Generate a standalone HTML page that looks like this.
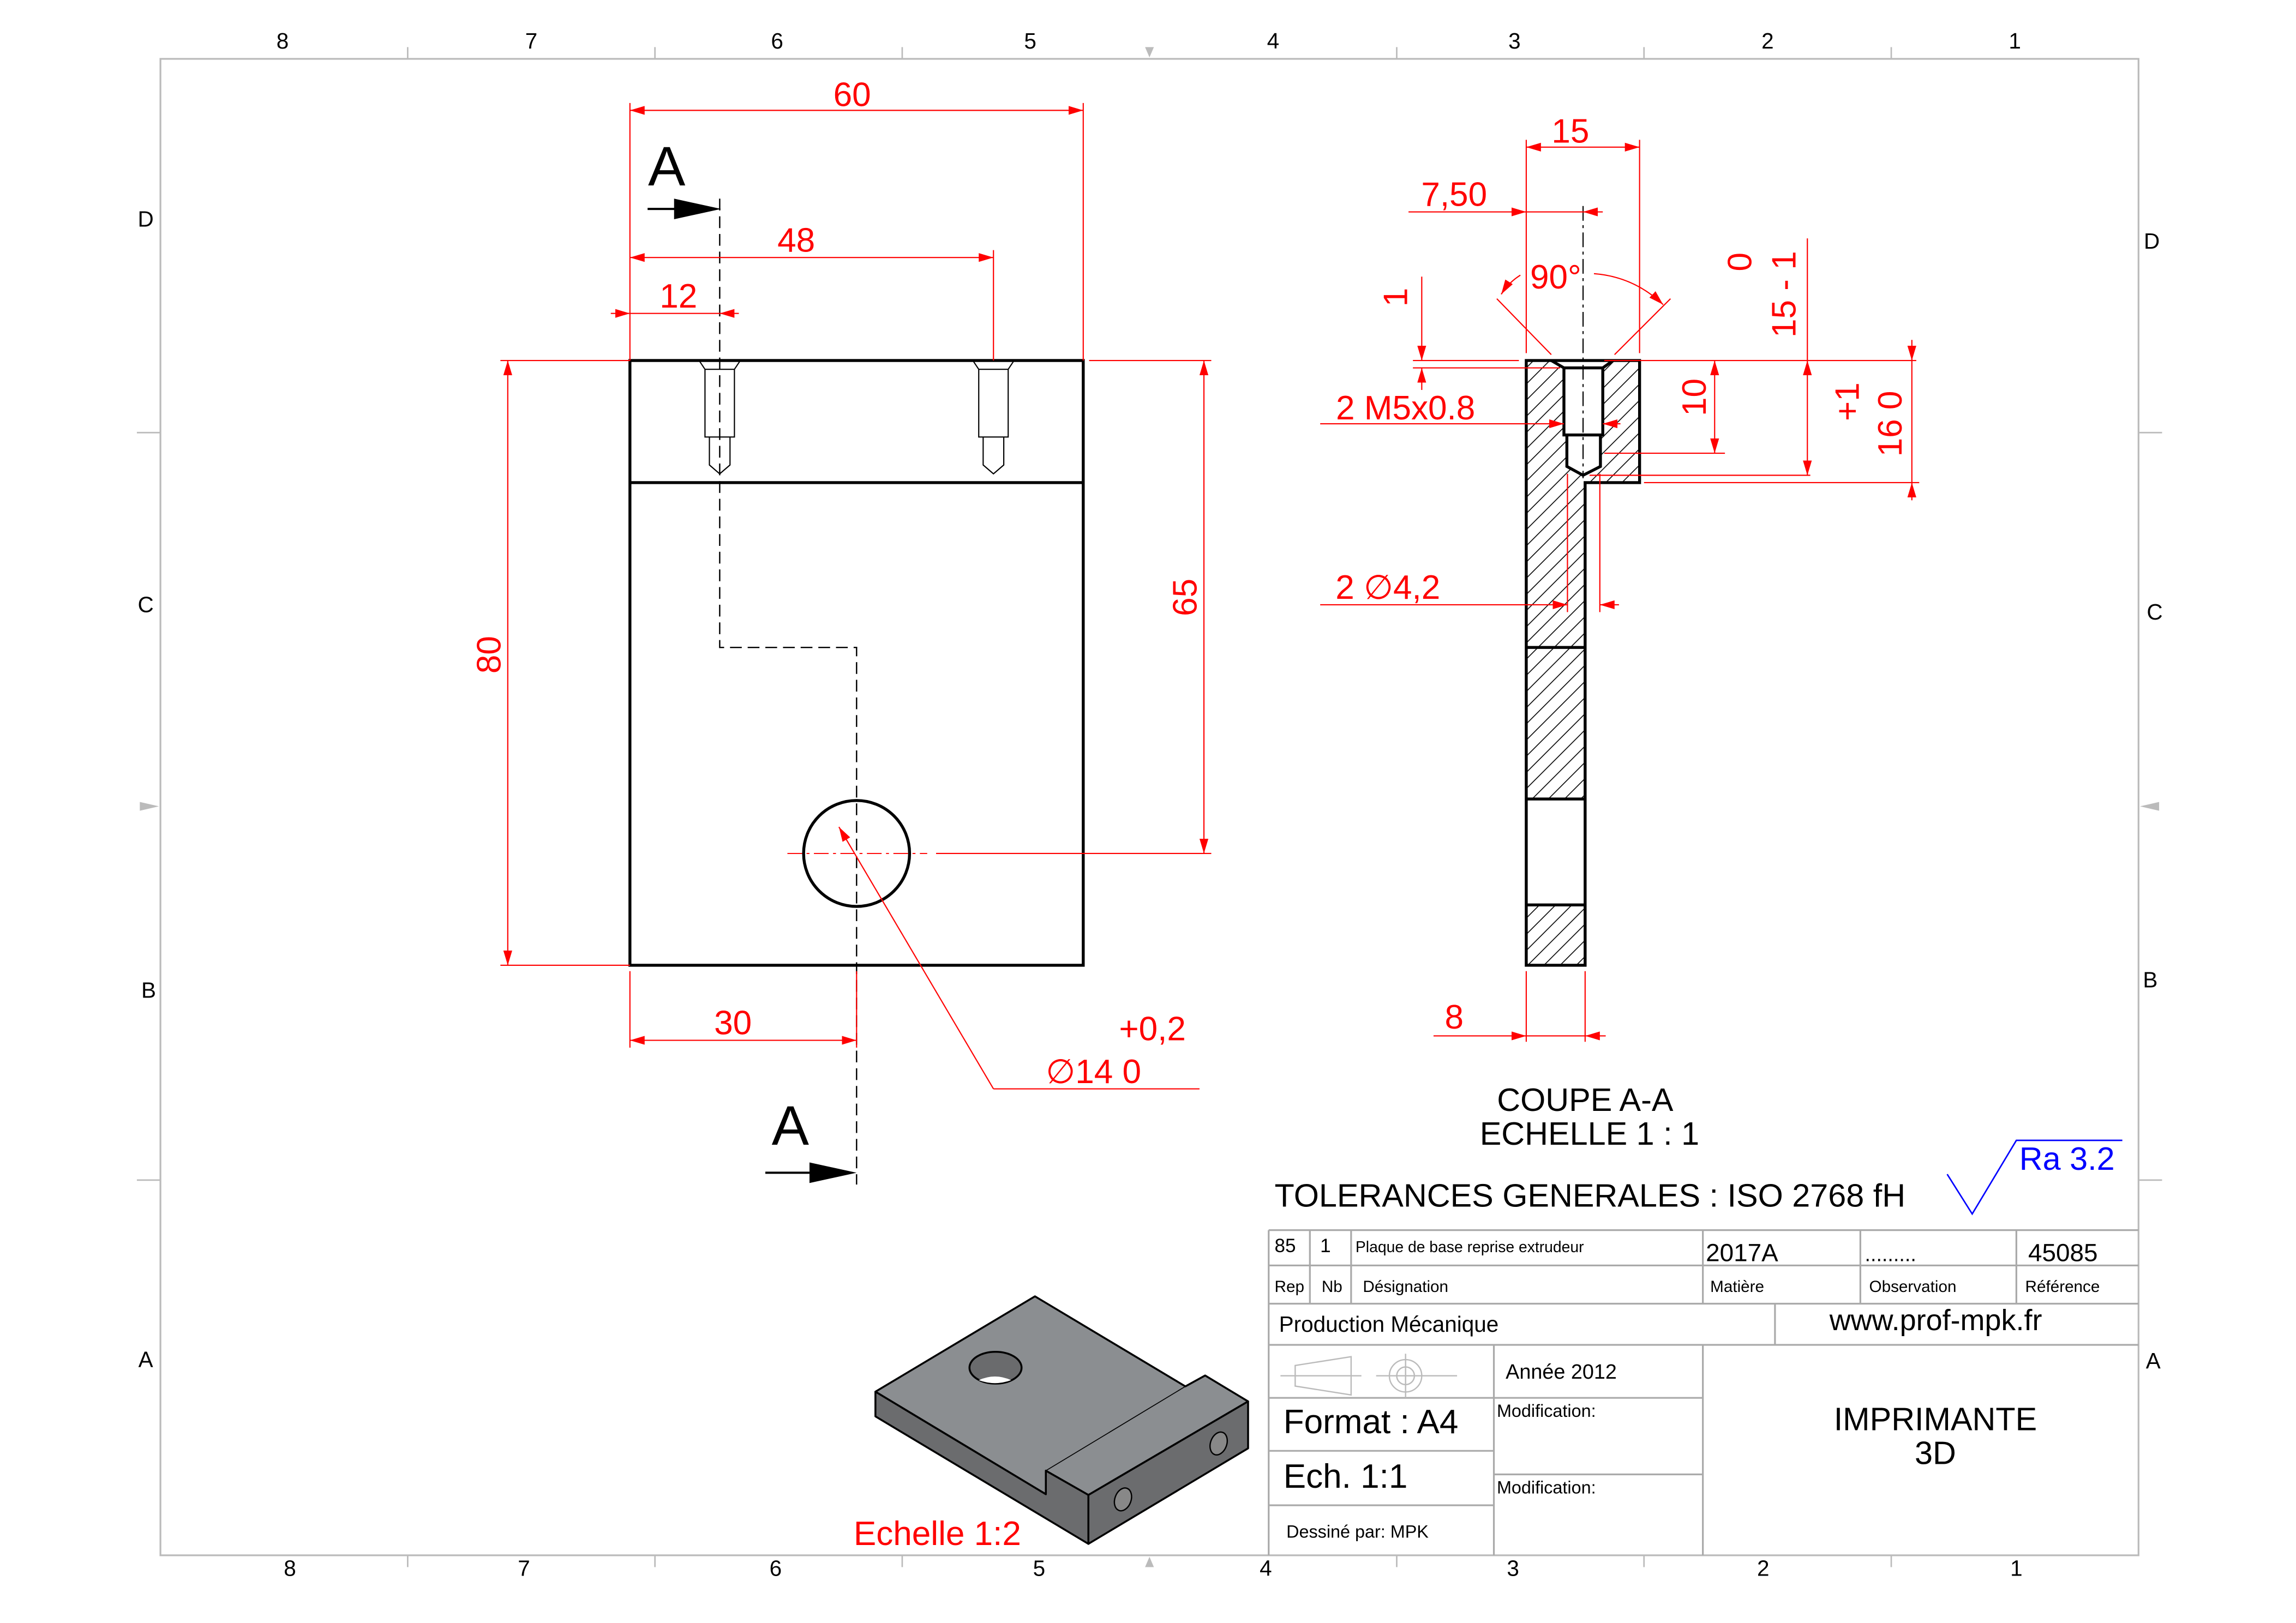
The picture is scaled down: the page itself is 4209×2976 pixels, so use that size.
<!DOCTYPE html>
<html><head><meta charset="utf-8"><style>
html,body{margin:0;padding:0;background:#fff}
svg{display:block}
text{font-family:"Liberation Sans",sans-serif}
</style></head><body>
<svg width="4209" height="2976" viewBox="0 0 1560 1103" xmlns="http://www.w3.org/2000/svg">
<defs>
<pattern id="h" patternUnits="userSpaceOnUse" width="11" height="11">
<path d="M0,11 L11,0 M-2,2 L2,-2 M9,13 L13,9" stroke="#000" stroke-width="0.6"/>
</pattern>
<marker id="a" viewBox="0 0 10 6" refX="10" refY="3" markerWidth="10" markerHeight="6" orient="auto-start-reverse" markerUnits="userSpaceOnUse"><path d="M0,0 L10,3 L0,6 Z" fill="red"/></marker>
</defs>
<rect width="1560" height="1103" fill="#fff"/>
<!-- frame -->
<rect x="109" y="40" width="1344" height="1017" fill="none" stroke="#bbb" stroke-width="1.2"/>
<g stroke="#bbb" stroke-width="1">
<path d="M277,32V40M445,32V40M613,32V40M949,32V40M1117,32V40M1285,32V40M277,1057V1065M445,1057V1065M613,1057V1065M949,1057V1065M1117,1057V1065M1285,1057V1065M93,294H109M93,802H109M1453,294H1469M1453,802H1469"/>
</g>
<g fill="#bbb"><path d="M778,32 L784,32 L781,39Z M778,1065 L784,1065 L781,1058Z M95,545 L95,551 L108,548Z M1467,545 L1467,551 L1454,548Z"/></g>
<g font-size="15" fill="#000" text-anchor="middle">
<text x="192" y="33">8</text><text x="361" y="33">7</text><text x="528" y="33">6</text><text x="700" y="33">5</text><text x="865" y="33">4</text><text x="1029" y="33">3</text><text x="1201" y="33">2</text><text x="1369" y="33">1</text>
<text x="197" y="1071">8</text><text x="356" y="1071">7</text><text x="527" y="1071">6</text><text x="706" y="1071">5</text><text x="860" y="1071">4</text><text x="1028" y="1071">3</text><text x="1198" y="1071">2</text><text x="1370" y="1071">1</text>
<text x="99" y="154">D</text><text x="99" y="416">C</text><text x="101" y="678">B</text><text x="99" y="929">A</text>
<text x="1462" y="169">D</text><text x="1464" y="421">C</text><text x="1461" y="671">B</text><text x="1463" y="930">A</text>
</g>

<!-- FRONT VIEW -->
<g fill="none" stroke="#000">
<rect x="428" y="245" width="308" height="411" stroke-width="2"/>
<path d="M428,328H736" stroke-width="2"/>
<g stroke-width="0.8">
<path d="M475,245 L479,251 H499 L503,245 M479,251V297H499V251 M482,297V316 L489,322 L496,316V297"/>
<path d="M661,245 L665,251 H685 L689,245 M665,251V297H685V251 M668,297V316 L675,322 L682,316V297"/>
</g>
<circle cx="582" cy="580" r="36" stroke-width="2"/>
<path d="M489,135V440H582V805" stroke-width="0.9" stroke-dasharray="8,4"/>
</g>
<path d="M535,580H630" stroke="red" stroke-width="0.7" stroke-dasharray="10,3,2,3"/>
<!-- section arrows -->
<text x="453" y="126" font-size="38" text-anchor="middle">A</text>
<path d="M440,142H460" stroke="#000" stroke-width="1.5"/><path d="M458,135 L490,142 L458,149Z" fill="#000"/>
<text x="537" y="778" font-size="38" text-anchor="middle">A</text>
<path d="M520,797H550" stroke="#000" stroke-width="1.5"/><path d="M550,790 L582,797 L550,804Z" fill="#000"/>

<!-- front dims -->
<g stroke="red" stroke-width="0.8" fill="none">
<path d="M428,70V245M736,70V245M675,170V245M340,245H428M340,656H428M740,245H823M636,580H823M428,660V712M582,660V712"/>
<path d="M428,75H736" marker-start="url(#a)" marker-end="url(#a)"/>
<path d="M428,175H675" marker-start="url(#a)" marker-end="url(#a)"/>
<path d="M415,213H428" marker-end="url(#a)"/><path d="M502,213H489" marker-end="url(#a)"/><path d="M428,213H489"/>
<path d="M345,245V656" marker-start="url(#a)" marker-end="url(#a)"/>
<path d="M818,245V580" marker-start="url(#a)" marker-end="url(#a)"/>
<path d="M428,707H582" marker-start="url(#a)" marker-end="url(#a)"/>
<path d="M675,740 L570,562" marker-end="url(#a)"/><path d="M675,740H815"/>
</g>
<g fill="red" font-size="23" text-anchor="middle">
<text x="579" y="72">60</text><text x="541" y="171">48</text><text x="461" y="209">12</text>
<text x="498" y="703">30</text>
<text transform="translate(340,445) rotate(-90)">80</text>
<text transform="translate(813,406) rotate(-90)">65</text>
<text x="783" y="707">+0,2</text>
<text x="743" y="736" text-anchor="middle">∅14   0</text>
</g>

<!-- SECTION VIEW -->
<g>
<path d="M1037,245H1114V328H1077V440H1037Z" fill="url(#h)"/>
<rect x="1037" y="440" width="40" height="103" fill="url(#h)"/>
<rect x="1037" y="615" width="40" height="41" fill="url(#h)"/>
<path d="M1053,245 L1062.6,250 V295.6 H1064.6 V317 L1075.6,323 L1087.4,317 V295.6 H1089 V250 L1097,245Z" fill="#fff"/>
<g fill="none" stroke="#000" stroke-width="2">
<path d="M1037,245H1114V328H1077V656H1037Z"/>
<path d="M1037,440H1077M1037,543H1077M1037,615H1077"/>
<path d="M1054,245 L1062.6,250 H1089 L1096,245 M1062.6,250V295.6H1089V250 M1064.6,295.6V317 L1075.6,323 L1087.4,317V295.6"/>
</g>
<path d="M1075.6,140V325" stroke="#000" stroke-width="0.8" stroke-dasharray="10,3,2,3"/>
</g>
<g stroke="red" stroke-width="0.8" fill="none">
<path d="M1037,95V240M1114,95V240"/>
<path d="M1037,100H1114" marker-start="url(#a)" marker-end="url(#a)"/>
<path d="M957,144H1037" marker-end="url(#a)"/><path d="M1089,144H1075.6" marker-end="url(#a)"/><path d="M1037,144H1076"/>
<path d="M1017,203 L1054,241M1135,203 L1097,241"/>
<path d="M1033,187 Q1025,192 1020,200" marker-end="url(#a)"/>
<path d="M1083,186 Q1110,188 1130,207" marker-end="url(#a)"/>
<path d="M960,245H1032M960,250H1060"/>
<path d="M966,188V245" marker-end="url(#a)"/><path d="M966,265V250" marker-end="url(#a)"/>
<path d="M897,288H1062.6" marker-end="url(#a)"/><path d="M1101,288H1089" marker-end="url(#a)"/>
<path d="M1090,245H1302M1090,308H1172M1080,323H1230M1117,328H1304"/>
<path d="M1165,245V308" marker-start="url(#a)" marker-end="url(#a)"/>
<path d="M1228,162V245" /><path d="M1228,245V323" marker-start="url(#a)" marker-end="url(#a)"/>
<path d="M1299,231V245" marker-end="url(#a)"/><path d="M1299,340V328" marker-end="url(#a)"/><path d="M1299,245V328"/>
<path d="M897,411H1065" marker-end="url(#a)"/><path d="M1100,411H1087" marker-end="url(#a)"/>
<path d="M1065,322V416M1087,322V416"/>
<path d="M1037,660V708M1077,660V708"/>
<path d="M974,704H1037" marker-end="url(#a)"/><path d="M1091,704H1077" marker-end="url(#a)"/><path d="M1037,704H1077"/>
</g>
<g fill="red" font-size="23" text-anchor="middle">
<text x="1067" y="97">15</text>
<text x="988" y="140">7,50</text>
<text x="1057" y="196">90°</text>
<text transform="translate(956,202) rotate(-90)">1</text>
<text x="955" y="285">2 M5x0.8</text>
<text transform="translate(1159,270) rotate(-90)">10</text>
<text transform="translate(1190,178) rotate(-90)">0</text>
<text transform="translate(1220,200) rotate(-90)">15 - 1</text>
<text transform="translate(1263,273) rotate(-90)">+1</text>
<text transform="translate(1292,288) rotate(-90)">16  0</text>
<text x="943" y="407">2 ∅4,2</text>
<text x="988" y="699">8</text>
</g>
<g font-size="22" text-anchor="middle" fill="#000">
<text x="1077" y="755">COUPE A-A</text>
<text x="1080" y="778">ECHELLE 1 : 1</text>
</g>
<text x="866" y="820" font-size="22">TOLERANCES GENERALES : ISO 2768 fH</text>
<path d="M1323,798 L1340,825 L1370,775 H1442" stroke="#00f" stroke-width="1" fill="none"/>
<text x="1372" y="795" font-size="22" fill="#00f">Ra 3.2</text>

<!-- ISO -->
<g stroke="#000" stroke-width="1.3" stroke-linejoin="round">
<path d="M594.8,945.8 L703.2,881 L805.4,942.2 L818.8,934.8 L848,952.4 L739.5,1016 L710.6,999.5 L710.6,1015.5Z" fill="#8b8e91"/>
<path d="M594.8,945.8 L710.6,1015.5 L710.6,999.5 L739.5,1016 L739.5,1049.2 L594.8,962.6Z" fill="#6b6c6e"/>
<path d="M739.5,1016 L848,952.4 L848,984.3 L739.5,1049.2Z" fill="#6b6c6e"/>
<path d="M710.6,999.5 L805.4,942.2" stroke-width="0.6" fill="none"/>
<ellipse cx="676.4" cy="929.5" rx="17.7" ry="10.8" fill="#6a6b6d"/>
<path d="M665,938 Q676,933 687,938 Q676,942 665,938Z" fill="#fff" stroke="none"/>
<ellipse cx="763" cy="1019" rx="5.5" ry="8" fill="#888" stroke-width="0.9" transform="rotate(20 763 1019)"/>
<ellipse cx="828" cy="981" rx="5.5" ry="8" fill="#888" stroke-width="0.9" transform="rotate(20 828 981)"/>
</g>
<text x="580" y="1050" font-size="23" fill="red">Echelle 1:2</text>

<!-- TITLE BLOCK -->
<g stroke="#aaa" stroke-width="1.2" fill="none">
<path d="M862,836H1453M862,860H1453M862,886H1453M862,914H1453M862,950H1015M1015,950H1157M862,986H1015M862,1023H1015M1015,1002H1157"/>
<path d="M862,836V1057M890,836V886M918,836V886M1157,836V886M1264,836V886M1370,836V886M1206,886V914M1015,914V1057M1157,914V1057"/>
</g>
<g stroke="#bbb" stroke-width="0.9" fill="none">
<path d="M880,928 L918,922 V948 L880,942Z M870,935H925 M935,935H990"/>
<circle cx="955" cy="935" r="11"/><circle cx="955" cy="935" r="6"/><path d="M955,920V950"/>
</g>
<g fill="#000">
<text x="866" y="851" font-size="13">85</text><text x="897" y="851" font-size="13">1</text>
<text x="921" y="851" font-size="10.5">Plaque de base reprise extrudeur</text>
<text x="1159" y="857" font-size="17">2017A</text>
<text x="1267" y="857" font-size="14">.........</text>
<text x="1378" y="857" font-size="17">45085</text>
<text x="866" y="878" font-size="11">Rep</text><text x="898" y="878" font-size="11">Nb</text><text x="926" y="878" font-size="11">Désignation</text>
<text x="1162" y="878" font-size="11">Matière</text><text x="1270" y="878" font-size="11">Observation</text><text x="1376" y="878" font-size="11">Référence</text>
<text x="869" y="905" font-size="15">Production Mécanique</text>
<text x="1243" y="904" font-size="20">www.prof-mpk.fr</text>
<text x="1023" y="937" font-size="14">Année 2012</text>
<text x="872" y="974" font-size="23">Format : A4</text>
<text x="872" y="1011" font-size="23">Ech. 1:1</text>
<text x="874" y="1045" font-size="12">Dessiné par: MPK</text>
<text x="1017" y="963" font-size="12">Modification:</text>
<text x="1017" y="1015" font-size="12">Modification:</text>
<text x="1315" y="972" font-size="22" text-anchor="middle">IMPRIMANTE</text>
<text x="1315" y="995" font-size="22" text-anchor="middle">3D</text>
</g>
</svg>
</body></html>
